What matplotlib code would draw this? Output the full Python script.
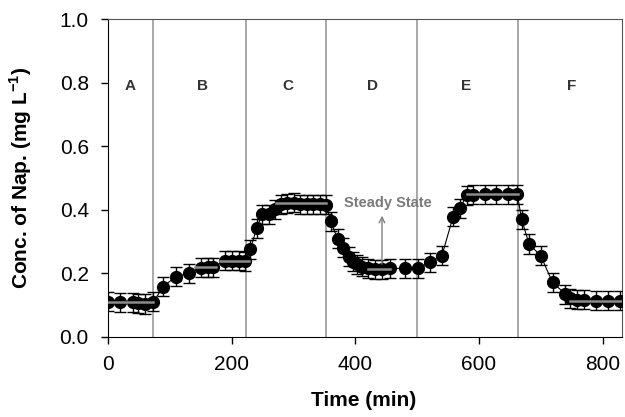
import matplotlib
matplotlib.use("Agg")
import matplotlib.pyplot as plt

plt.rcParams['font.family'] = ['Liberation Sans', 'DejaVu Sans']
plt.rcParams['mathtext.fontset'] = 'custom'
plt.rcParams['mathtext.rm'] = 'Liberation Sans'
plt.rcParams['mathtext.bf'] = 'Liberation Sans:bold'

# Data
time = [0, 19, 40, 48, 59, 73, 89, 109, 131, 150, 161, 170, 189, 200, 211, 222,
        230, 240, 249, 260, 270, 279, 289, 300, 310, 321, 332, 342, 353,
        360, 371, 380, 389, 396, 402, 410, 421, 432, 443, 456, 480, 501,
        520, 540, 558, 569, 580, 591, 610, 628, 647, 662,
        669, 681, 700, 719, 740, 747, 758, 770, 789, 809, 828]
conc = [0.110, 0.108, 0.108, 0.106, 0.103, 0.110, 0.158, 0.189, 0.200, 0.217, 0.218, 0.218,
        0.240, 0.240, 0.240, 0.237, 0.276, 0.341, 0.386, 0.386, 0.401, 0.418, 0.420, 0.422,
        0.418, 0.418, 0.418, 0.418, 0.415, 0.364, 0.308, 0.280, 0.252, 0.236, 0.228, 0.220,
        0.215, 0.213, 0.213, 0.215, 0.215, 0.215, 0.234, 0.255, 0.378, 0.404, 0.446, 0.448,
        0.449, 0.449, 0.449, 0.449, 0.370, 0.292, 0.255, 0.171, 0.134, 0.121, 0.116, 0.116,
        0.113, 0.113, 0.113]
err = [0.03] * len(time)

# phase boundaries and labels
boundaries = [72, 223, 353, 500, 663]
phase_labels = ['A', 'B', 'C', 'D', 'E', 'F']
phase_label_x = [35, 152, 290, 427, 579, 750]

# steady-state mean lines (start, end, level)
mean_start = [0, 140, 181, 272, 420, 580, 747]
mean_end = [73, 175, 227, 353, 456, 663, 832]
mean_level = [0.110, 0.218, 0.240, 0.420, 0.213, 0.449, 0.113]

fig = plt.figure(figsize=(6.25, 4.17), dpi=100)
ax = fig.add_axes([0.1733, 0.1926, 0.8224, 0.7611])

for b in boundaries:
    ax.axvline(b, color='#999999', lw=1.2, zorder=1)

ax.plot(time, conc, color='black', lw=0.8, zorder=2)
ax.errorbar(time, conc, yerr=err, fmt='o', color='black', ms=8.5,
            ecolor='black', elinewidth=1.0, capsize=4, capthick=1.0, zorder=3)

for s, e, lv in zip(mean_start, mean_end, mean_level):
    ax.plot([s, e], [lv, lv], color='#8c8c8c', lw=1.8, zorder=4)

for lab, lx in zip(phase_labels, phase_label_x):
    ax.text(lx, 0.79, lab, ha='center', va='center', fontsize=11,
            fontweight='bold', color='#333333')

ax.annotate('', xy=(443, 0.39), xytext=(443, 0.22),
            arrowprops=dict(arrowstyle='->', color='#808080', lw=1), zorder=5)
ax.text(452, 0.42, 'Steady State', ha='center', va='center', fontsize=10.5,
        fontweight='bold', color='#7a7a7a')

ax.set_xlim(0, 832)
ax.set_ylim(0, 1.0)
ax.set_xticks([0, 200, 400, 600, 800])
ax.set_yticks([0.0, 0.2, 0.4, 0.6, 0.8, 1.0])
ax.set_yticklabels(['0.0', '0.2', '0.4', '0.6', '0.8', '1.0'])
ax.tick_params(direction='out', length=5, labelsize=15, width=1)
ax.tick_params(axis='y', pad=9)
ax.tick_params(axis='x', pad=8)

ax.set_xlabel('Time (min)', fontsize=15, fontweight='bold')
ax.xaxis.set_label_coords(0.497, -0.172)
ax.set_ylabel('Conc. of Nap. (mg L$^{\\mathbf{-1}}$)', fontsize=15, fontweight='bold')
ax.yaxis.set_label_coords(-0.145, 0.5)

for side in ['top', 'right']:
    ax.spines[side].set_color('#555555')

fig.savefig('out.png', dpi=100, facecolor='white')
